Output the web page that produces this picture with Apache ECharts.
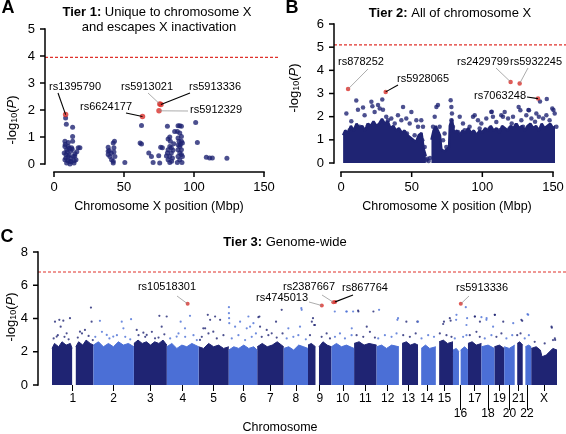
<!DOCTYPE html>
<html><head><meta charset="utf-8">
<script src="https://cdn.jsdelivr.net/npm/echarts@6/dist/echarts.min.js"></script>
<style>html,body{margin:0;padding:0;background:#fff}#c{width:566px;height:434px}</style>
</head><body><div id="c"></div>
<script>
// ---------------- DATA ----------------
// Panel A: Tier 1 (x = Mbp on chromosome X, y = -log10 P)
const tier1Points = [
 [8.3,1.70],[8.8,1.47],[13.3,1.36],
 [7.8,0.84],[10.2,0.80],[7.8,0.65],[9.0,0.53],[7.3,0.41],[8.5,0.35],[10.2,0.28],[7.8,0.16],[9.0,0.04],
 [11.4,0.10],[12.6,0.60],[13.3,1.02],[13.3,0.84],[11.9,0.47],[13.8,0.28],[15.0,0.38],[15.7,0.16],
 [17.3,0.60],[18.5,0.60],[10.2,0.65],[11.4,0.00],[14.3,0.04],[8.5,0.22],[9.5,0.45],[10.8,0.33],
 [12.0,0.20],[13.0,0.55],[14.5,0.12],[9.8,0.12],[12.2,0.08],[16.3,0.45],[8.0,0.72],[11.0,0.58],[14.8,0.30],
 [38.7,0.62],[38.7,0.47],[38.7,0.35],[39.9,0.28],[41.1,0.16],[42.3,0.04],[42.3,0.78],[42.8,0.60],
 [42.8,0.44],[43.5,0.28],[43.2,0.84],[42.3,0.10],[39.5,0.50],[41.0,0.40],
 [50.6,0.06],
 [62.5,1.43],[61.5,0.78],[62.5,0.74],
 [67.7,0.41],[69.6,0.28],[70.8,0.06],
 [74.8,0.31],[75.5,0.04],[76.2,0.62],[77.4,0.60],
 [81.0,1.40],[81.5,0.93],[82.7,1.00],[81.5,0.53],[82.7,0.65],[81.0,0.41],[82.7,0.28],[81.5,0.16],
 [82.7,0.06],[83.8,0.41],[83.8,0.60],[83.1,0.84],[84.6,0.22],[85.0,0.51],[85.5,0.75],[86.2,1.20],
 [80.3,0.30],[84.0,0.10],
 [88.6,1.42],[89.8,1.42],[91.0,1.40],[88.1,1.20],[89.8,1.15],[91.0,1.02],[88.6,0.96],[89.3,0.84],
 [91.0,0.84],[89.8,0.65],[88.6,0.53],[91.0,0.53],[89.8,0.41],[88.6,0.28],[91.0,0.35],[89.8,0.16],
 [91.4,0.06],[88.1,0.06],[91.7,0.28],[91.7,0.78],[90.3,0.72],[88.8,0.70],
 [101.2,1.54],[102.4,0.80],[108.8,0.25],[111.2,0.22],[113.1,0.22],[123.5,0.21]
];
const tier1Hits = [[8.3,1.83,'rs1395790'],[63.2,1.76,'rs6624177'],[75.6,2.22,'rs5913021'],[76.4,2.20,'rs5913336'],[75.0,1.97,'rs5912329']];
const tier1Threshold = 3.95;
const tier1XTicks = [0,50,100,150];
const tier1YTicks = [0,1,2,3,4,5];

// Panel B: Tier 2 — dense cloud upper envelope (Mbp, top of solid cloud), null = gap
const tier2Envelope = [
 [1.5,1.2],[3,1.4],[5,1.3],[7,1.6],[9,1.4],[11,1.7],[13,1.5],[15,1.6],[17,1.4],[19,1.7],[21,1.6],[23,1.8],
 [25,1.6],[27,1.7],[29,1.9],[31,1.7],[33,1.8],[35,1.5],[37,1.6],[39,1.4],[41,1.5],[43,1.3],[45,1.4],[47,1.2],
 [49,1.1],[51,1.0],[53,0.9],[55,1.2],[57,1.3],[58.5,0.6],[60,0.3],[60.5,null],
 [64,1.0],[65.5,1.4],[67,1.6],[68.5,1.4],[70,1.2],[71,0.6],[73,0.5],[75,0.6],[76.5,0.7],[77,1.6],[78.5,1.9],
 [80,1.3],[82,1.4],[84,1.2],[86,1.4],[88,1.3],[90,1.5],[92,1.3],[94,1.4],[96,1.2],[98,1.4],[100,1.3],[102,1.5],
 [104,1.4],[106,1.6],[108,1.4],[110,1.5],[112,1.3],[114,1.6],[116,1.5],[118,1.4],[120,1.6],[122,1.5],[124,1.7],
 [126,1.5],[128,1.6],[130,1.4],[132,1.6],[134,1.7],[136,1.5],[138,1.6],[140,1.4],[142,1.7],[144,1.5],[146,1.6],
 [148,1.7],[150,1.5],[152,1.6],[154,1.3]
];
// Panel B: individual SNPs above the solid cloud
const tier2Points = [
 [3.8,2.14],[10.8,2.70],[12.0,2.30],[7.3,1.80],[15.6,2.40],[16.7,2.06],[21.5,2.64],[22.2,2.45],[23.8,2.20],
 [26.2,2.50],[27.4,2.35],[29.2,2.74],[29.7,2.30],[32.0,2.00],[33.3,1.85],[35.6,1.92],[38.0,1.70],[40.3,2.06],
 [43.9,2.42],[42.7,1.85],[46.2,1.92],[48.6,1.70],[49.8,2.20],[53.3,1.85],[54.5,1.56],[56.8,1.85],[58.0,1.56],
 [57.5,0.98],[59.2,0.69],[60.4,0.12],[62.0,0.09],[61.0,0.18],[63.0,0.22],
 [67.5,2.42],[68.6,2.50],[66.3,2.00],[65.1,1.56],[69.8,1.56],[72.2,0.98],[73.3,1.27],[74.5,0.69],
 [77.6,2.71],[78.1,2.42],[78.5,2.14],[78.1,1.85],[79.2,1.56],[80.4,1.27],[84.0,2.00],[86.3,1.70],[89.9,1.41],
 [93.4,2.00],[94.6,2.06],[96.9,1.85],[99.3,1.70],[102.8,1.92],[106.4,2.20],[107.5,2.00],[109.9,1.77],
 [113.4,2.06],[114.6,2.00],[115.8,2.20],[118.2,1.92],[121.7,2.00],[124.0,1.63],[125.7,2.42],[126.9,2.28],
 [127.6,1.85],[131.1,2.06],[133.0,2.28],[134.7,1.92],[138.2,2.14],[140.0,2.00],[143.0,1.92],[145.3,2.06],
 [147.6,1.85],[149.5,2.35],[151.2,2.14],[152.4,1.56],[145.6,2.76],[140.8,2.65],[137.3,1.78],[120.8,1.71],
 [106.6,2.21],[132.6,2.29],[150.3,2.29],
 [6.1,1.41],[13.2,1.56],[19.1,1.63],[25.0,1.49],[34.4,1.41],[41.5,1.34],[46.7,1.27],[52.1,1.20],[55.7,1.05],
 [100.5,1.34],[105.2,1.49],[112.3,1.41],[119.3,1.49],[128.8,1.56],[135.8,1.49],[141.7,1.41],[148.8,1.49],
 [87.5,1.41],[98.1,1.49],[91.0,1.56],[82.8,1.34]
];
const tier2Hits = [[5.0,3.19,'rs878252'],[31.6,3.07,'rs5928065'],[120.0,3.50,'rs2429799'],[126.4,3.43,'rs5932245'],[139.4,2.78,'rs7063248']];
const tier2Threshold = 5.1;
const tier2XTicks = [0,50,100,150];
const tier2YTicks = [0,1,2,3,4,5,6];

// Panel C: Tier 3 genome-wide
const chromNames = ['1','2','3','4','5','6','7','8','9','10','11','12','13','14','15','16','17','18','19','20','21','22','X'];
const chromLengths = [249,243,198,191,181,171,159,146,141,136,135,134,115,107,103,90,81,78,59,63,48,51,155];
const lowerRowChroms = ['16','18','20','22'];
const tier3YTicks = [0,2,4,6,8];
// per-chromosome top of the solid cloud: [position in chromosome (Mbp), top], null = gap
const tier3Envelope = [
 [[0,2.2],[15,2.5],[40,2.3],[60,2.6],[85,2.4],[110,2.5],[121,2.2],[122,null],[143,2.3],[160,2.6],[185,2.4],[205,2.7],[230,2.5],[249,2.4]],
 [[0,2.4],[30,2.6],[60,2.3],[90,2.5],[120,2.3],[150,2.6],[180,2.4],[210,2.5],[243,2.3]],
 [[0,2.5],[25,2.7],[50,2.5],[75,2.6],[100,2.4],[125,2.6],[150,2.5],[175,2.7],[198,2.4]],
 [[0,2.3],[30,2.5],[60,2.2],[90,2.4],[120,2.3],[150,2.5],[191,2.3]],
 [[0,2.3],[30,2.2],[60,2.5],[90,2.3],[120,2.4],[150,2.2],[181,2.3]],
 [[0,2.1],[30,2.3],[60,2.2],[90,2.4],[120,2.2],[150,2.3],[171,2.1]],
 [[0,2.3],[30,2.5],[60,2.3],[90,2.4],[120,2.6],[159,2.3]],
 [[0,2.2],[30,2.3],[60,2.1],[90,2.4],[120,2.3],[146,2.2]],
 [[0,2.4],[20,2.5],[45,2.3],[46,null],[66,2.3],[90,2.6],[115,2.4],[141,2.3]],
 [[0,2.3],[30,2.5],[60,2.3],[90,2.4],[136,2.2]],
 [[0,2.5],[30,2.6],[60,2.4],[90,2.5],[135,2.4]],
 [[0,2.3],[30,2.4],[60,2.2],[90,2.4],[134,2.3]],
 [[19,2.5],[45,2.6],[70,2.4],[95,2.5],[115,2.4]],
 [[19,2.2],[45,2.4],[70,2.2],[107,2.3]],
 [[20,2.6],[45,2.7],[70,2.5],[103,2.6]],
 [[0,2.1],[20,2.2],[36,2.0],[37,null],[46,2.1],[70,2.3],[90,2.1]],
 [[0,2.5],[25,2.6],[50,2.4],[81,2.5]],
 [[0,2.3],[40,2.4],[78,2.2]],
 [[0,2.3],[30,2.4],[59,2.2]],
 [[0,2.3],[30,2.2],[63,2.4]],
 [[15,2.5],[30,2.6],[48,2.4]],
 [[16,2.3],[35,2.4],[51,2.3]],
 [[0,2.2],[30,2.3],[55,2.1],[65,1.7],[90,1.8],[110,2.0],[130,2.2],[155,2.1]]
];
// individual SNPs above the cloud: [cumulative genome position (Mbp), -log10 P]
const tier3Points = [
 [18,3.81],[44,3.92],[68,3.87],[52,3.51],[108,4.02],[28,2.91],[88,3.11],[168,3.21],[198,3.31],[234,4.66],[238,3.81],
 [288,3.86],[329,3.01],[368,2.91],[419,3.81],[475,3.96],[429,3.41],[509,3.31],[549,3.15],[569,3.01],
 [645,4.16],[689,4.12],[659,3.51],[619,2.81],[773,3.81],[829,4.16],[799,3.41],[749,2.91],[889,2.71],[909,3.41],
 [936,4.22],[950,3.92],[980,4.12],[1010,3.92],[1063,4.68],[1063,4.32],[1064,4.02],[1065,3.72],[1100,3.51],
 [1180,4.12],[1190,3.51],[1240,4.08],[1250,3.51],[1290,3.31],[1320,3.11],[920,3.41],[969,3.21],[1130,3.81],
 [1170,3.41],[1210,3.72],[1246,4.12],[1380,4.52],[1346,3.81],[1420,3.41],[1500,4.52],[1490,3.51],[1561,3.81],
 [1580,3.61],[1771,4.42],[1841,4.42],[1801,3.41],[1891,3.51],[1931,4.42],[1498,4.62],[1568,4.02],[1575,3.61],
 [1699,4.42],[1768,4.42],[1809,4.42],[1839,4.48],[1965,4.52],[2079,4.02],[2129,3.81],[2199,3.81],[2350,3.67],
 [2390,4.02],[2430,4.22],[2486,4.68],[2490,3.61],[2540,4.12],[2580,4.08],[2610,3.92],[2660,4.22],[2650,3.51],
 [2820,3.92],[2861,4.22],[3001,3.51],[3021,2.81],[2075,3.92],[2195,3.81],[2355,3.81],[2395,3.87],[2428,3.92],
 [2494,4.02],[2541,4.12],[2571,3.81],[2611,4.02],[2661,4.22],[2711,3.81],[2771,3.72],[2825,3.86],[2857,4.26],
 [3003,3.45],[3023,2.71],
 [10,2.8],[35,3.0],[75,2.9],[100,2.75],[155,2.85],[180,3.1],[220,2.95],[245,2.7],[260,2.9],[300,3.2],[345,2.8],
 [390,3.0],[440,2.9],[470,2.75],[520,3.0],[560,2.9],[600,3.2],[640,2.85],[675,3.05],[710,2.8],[760,3.1],[800,2.9],
 [850,3.0],[870,2.7],[900,2.9],[940,3.1],[990,2.8],[1030,3.0],[1080,2.8],[1120,3.0],[1160,2.7],[1200,2.9],
 [1225,3.1],[1260,2.9],[1300,3.0],[1350,2.85],[1385,3.1],[1410,2.8],[1450,2.9],[1480,3.0],[1525,2.75],[1550,3.0],
 [1620,2.9],[1650,3.1],[1670,2.8],[1700,2.9],[1730,3.1],[1760,2.8],[1800,3.0],[1830,3.0],[1870,2.9],[1910,3.2],
 [1940,2.85],[1960,2.8],[2000,3.0],[2040,2.9],[2070,3.1],[2110,3.0],[2150,2.9],[2185,3.1],[2220,2.8],[2260,3.0],
 [2295,2.9],[2330,3.1],[2370,3.0],[2400,2.9],[2420,2.8],[2470,2.9],[2490,3.0],[2510,3.0],[2550,3.2],[2570,2.9],
 [2600,2.8],[2640,3.0],[2670,2.9],[2700,3.1],[2730,2.8],[2765,3.0],[2795,3.0],[2815,3.1],[2840,2.8],[2865,3.0],
 [2900,2.6],[2960,2.5],[3010,2.7]
];
const tier3Hits = [[815,4.88,'rs10518301'],[1621,4.78,'rs4745013'],[1690,4.98,'rs2387667'],[1701,5.0,'rs867764'],[2456,4.88,'rs5913336']];
const tier3Threshold = 6.8;

// ---------------- LAYOUT / STYLE ----------------
const FF = "'Liberation Sans', Arial, Helvetica, sans-serif";
const NAVY = '#1f2473', LIGHT = '#4b6fd6', RED = '#d9302b';
const labelLayout = {
 rs1395790:{tx:75,ty:87,lx:58,ly:93,c:'#000'},
 rs6624177:{tx:106,ty:107,lx:126,ly:113,c:'#000'},
 rs5913021:{tx:147,ty:87,lx:148,ly:93,c:'#888'},
 rs5913336A:{tx:215,ty:87,lx:190,ly:93,c:'#000'},
 rs5912329:{tx:216,ty:110,lx:188,ly:111,c:'#888'},
 rs878252:{tx:361,ty:62,lx:368,ly:69,c:'#888'},
 rs5928065:{tx:423,ty:79,lx:398,ly:85,c:'#000'},
 rs2429799:{tx:483,ty:62,lx:496,ly:68,c:'#888'},
 rs5932245:{tx:536,ty:62,lx:528,ly:68,c:'#888'},
 rs7063248:{tx:500,ty:96,lx:527,ly:97,c:'#000'},
 rs10518301:{tx:167,ty:287,lx:177,ly:296,c:'#888'},
 rs4745013:{tx:282,ty:298,lx:309,ly:302,c:'#888'},
 rs2387667:{tx:309,ty:287,lx:322,ly:295,c:'#888'},
 rs867764:{tx:365,ty:288,lx:353,ly:295,c:'#000'},
 rs5913336C:{tx:482,ty:288,lx:469,ly:296,c:'#888'}
};
const yAxisLayout = [[0, 45, tier1YTicks], [1, 334, tier2YTicks], [2, 38, tier3YTicks]];
const xAxisLayout = [[0, 172, tier1XTicks], [1, 172, tier2XTicks]];

const offsets = []; let acc = 0;
chromLengths.forEach(l => { offsets.push(acc); acc += l; });
const genomeLen = acc;
const mids = chromLengths.map((l, i) => offsets[i] + l / 2);
const lowerMids = mids.filter((m, i) => lowerRowChroms.includes(chromNames[i]));

const envDark = [], envLight = [];
tier3Envelope.forEach((pts, i) => {
  const tgt = i % 2 === 0 ? envDark : envLight;
  pts.forEach(([p, v]) => tgt.push([offsets[i] + p, v == null ? '-' : v]));
  tgt.push([offsets[i] + chromLengths[i] + 0.5, '-']);
});
const chromOf = x => { for (let i = chromLengths.length - 1; i >= 0; i--) if (x >= offsets[i]) return i; return 0; };
const ptsDark = tier3Points.filter(p => chromOf(p[0]) % 2 === 0);
const ptsLight = tier3Points.filter(p => chromOf(p[0]) % 2 === 1);
const env2 = tier2Envelope.map(([x, v]) => [x, v == null ? '-' : v]);

const hiddenAxis = (gi, min, max) => ({gridIndex:gi, type:'value', min, max, show:false, splitLine:{show:false}});

const option = {
  animation:false,
  grid:[
    {left:54, top:29, width:210, height:135},
    {left:341, top:24, width:212, height:139},
    {left:52, top:252, width:505, height:133}
  ],
  xAxis:[
    hiddenAxis(0, 0, 150),
    hiddenAxis(1, 0, 150),
    {gridIndex:2, type:'value', min:0, max:genomeLen, axisLine:{show:false}, splitLine:{show:false},
     axisTick:{show:true, customValues:mids, length:6, lineStyle:{color:'#000', width:1}},
     axisLabel:{show:true, customValues:mids, color:'#000', fontSize:12, fontFamily:FF, margin:6, lineHeight:15,
       formatter: v => { let k = 0, best = 1e9; mids.forEach((m, i) => { if (Math.abs(m - v) < best) { best = Math.abs(m - v); k = i; } });
         const n = chromNames[k]; return lowerRowChroms.includes(n) ? '\n' + n : n; }}},
    {gridIndex:2, type:'value', position:'bottom', min:0, max:genomeLen, axisLine:{show:false}, splitLine:{show:false}, axisLabel:{show:false},
     axisTick:{show:true, customValues:lowerMids, length:25, lineStyle:{color:'#000', width:1}}}
  ],
  yAxis:[
    hiddenAxis(0, 0, 5),
    hiddenAxis(1, 0, 6),
    hiddenAxis(2, 0, 8)
  ],
  series:[
    {type:'scatter', xAxisIndex:0, yAxisIndex:0, data:tier1Points, symbolSize:5, itemStyle:{color:NAVY}, clip:false},
    {type:'scatter', xAxisIndex:0, yAxisIndex:0, data:tier1Hits, symbolSize:5.5, itemStyle:{color:RED}, z:5, clip:false},
    {type:'line', xAxisIndex:1, yAxisIndex:1, data:env2, symbol:'none', lineStyle:{color:NAVY, width:2.5}, areaStyle:{color:NAVY, opacity:1}, clip:false, connectNulls:false},
    {type:'scatter', xAxisIndex:1, yAxisIndex:1, data:tier2Points, symbolSize:4.5, itemStyle:{color:NAVY}, clip:false},
    {type:'scatter', xAxisIndex:1, yAxisIndex:1, data:tier2Hits, symbolSize:4.5, itemStyle:{color:RED}, z:5, clip:false},
    {type:'line', xAxisIndex:2, yAxisIndex:2, data:envDark, symbol:'none', lineStyle:{color:NAVY, width:1}, areaStyle:{color:NAVY, opacity:1}, connectNulls:false, clip:false},
    {type:'line', xAxisIndex:2, yAxisIndex:2, data:envLight, symbol:'none', lineStyle:{color:LIGHT, width:1}, areaStyle:{color:LIGHT, opacity:1}, connectNulls:false, clip:false},
    {type:'scatter', xAxisIndex:2, yAxisIndex:2, data:ptsDark, symbolSize:2.2, itemStyle:{color:NAVY}, clip:false},
    {type:'scatter', xAxisIndex:2, yAxisIndex:2, data:ptsLight, symbolSize:2.2, itemStyle:{color:LIGHT}, clip:false},
    {type:'scatter', xAxisIndex:2, yAxisIndex:2, data:tier3Hits, symbolSize:4, itemStyle:{color:RED}, z:5, clip:false}
  ]
};
const chart = echarts.init(document.getElementById('c'));
chart.setOption(option);

// ---------------- AXES (detached, positioned from the grids' own scales) & ANNOTATIONS ----------------
const g = [];
const px = (gi, x, y) => chart.convertToPixel({gridIndex:gi}, [x, y]);
const bar = (x, y, w, h) => g.push({type:'rect', silent:true, zlevel:1, z:50, shape:{x, y, width:w, height:h}, style:{fill:'#000'}});
const line = (x1, y1, x2, y2, stroke, w, dash) => g.push({type:'line', silent:true, z:10, shape:{x1, y1, x2, y2}, style:{stroke, lineWidth:w, lineDash:dash || null}});
const txt = (x, y, text, extra) => g.push({type:'text', x, y, silent:true, z:10, style:Object.assign({text, fontFamily:FF, fontSize:13, fill:'#000', align:'center', verticalAlign:'middle'}, extra || {})});

yAxisLayout.forEach(([gi, ax, ticks]) => {
  const yb = px(gi, 0, ticks[0])[1], yt = px(gi, 0, ticks[ticks.length - 1])[1];
  bar(ax - 0.75, yt - 0.75, 1.5, yb - yt + 1.5);
  ticks.forEach(t => { const y = px(gi, 0, t)[1]; bar(ax - 5, y - 0.75, 5, 1.5); txt(ax - 10, y, String(t), {align:'right'}); });
});
xAxisLayout.forEach(([gi, ay, ticks]) => {
  const xl = px(gi, ticks[0], 0)[0], xr = px(gi, ticks[ticks.length - 1], 0)[0];
  bar(xl - 0.75, ay - 0.75, xr - xl + 1.5, 1.5);
  ticks.forEach(t => { const x = px(gi, t, 0)[0]; bar(x - 0.75, ay, 1.5, 5); txt(x, ay + 15, String(t)); });
  txt((xl + xr) / 2, 207, 'Chromosome X position (Mbp)', {fontSize:12.5});
});

txt(8, 8, 'A', {fontSize:18, fontWeight:'bold'});
txt(292, 8, 'B', {fontSize:18, fontWeight:'bold'});
txt(7, 237, 'C', {fontSize:18, fontWeight:'bold'});
const rich = {b:{fontWeight:'bold', fontSize:13, fontFamily:FF, fill:'#000'}};
txt(157, 12, '{b|Tier 1:} Unique to chromosome X', {rich});
txt(159, 27.5, 'and escapes X inactivation');
txt(450, 13, '{b|Tier 2:} All of chromosome X', {rich});
txt(285, 242, '{b|Tier 3:} Genome-wide', {rich});
txt(280, 428, 'Chromosome', {fontSize:12.5});
const yRich = {a:{fontSize:13, fontFamily:FF, fill:'#000'}, s:{fontSize:9, fontFamily:FF, fill:'#000', padding:[6,0,0,0]}, i:{fontSize:13, fontFamily:FF, fontStyle:'italic', fill:'#000'}};
[[12,120],[294,88],[11,317]].forEach(([x, y]) => g.push({type:'text', x, y, rotation:Math.PI/2, silent:true,
  style:{text:'{a|-log}{s|10}{a|(}{i|P}{a|)}', rich:yRich, align:'center', verticalAlign:'middle'}}));
[[0, tier1Threshold, 45, 279], [1, tier2Threshold, 334, 566], [2, tier3Threshold, 38, 566]].forEach(([gi, t, x1, x2]) => {
  const y = px(gi, 0, t)[1];
  line(x1, y, x2, y, '#e0312b', 1.1, [3, 2]);
});
const hitSets = [[0, tier1Hits, 'A'], [1, tier2Hits, ''], [2, tier3Hits, 'C']];
hitSets.forEach(([gi, hits, suf]) => hits.forEach(h => {
  const L = labelLayout[h[2]] || labelLayout[h[2] + suf];
  if (!L) return;
  const p = px(gi, h[0], h[1]);
  line(L.lx, L.ly, p[0], p[1], L.c, L.c === '#000' ? 1.1 : 0.7);
  txt(L.tx, L.ty, h[2], {fontSize:11});
}));
option.graphic = {elements:g};
chart.setOption(option, true);
</script></body></html>
